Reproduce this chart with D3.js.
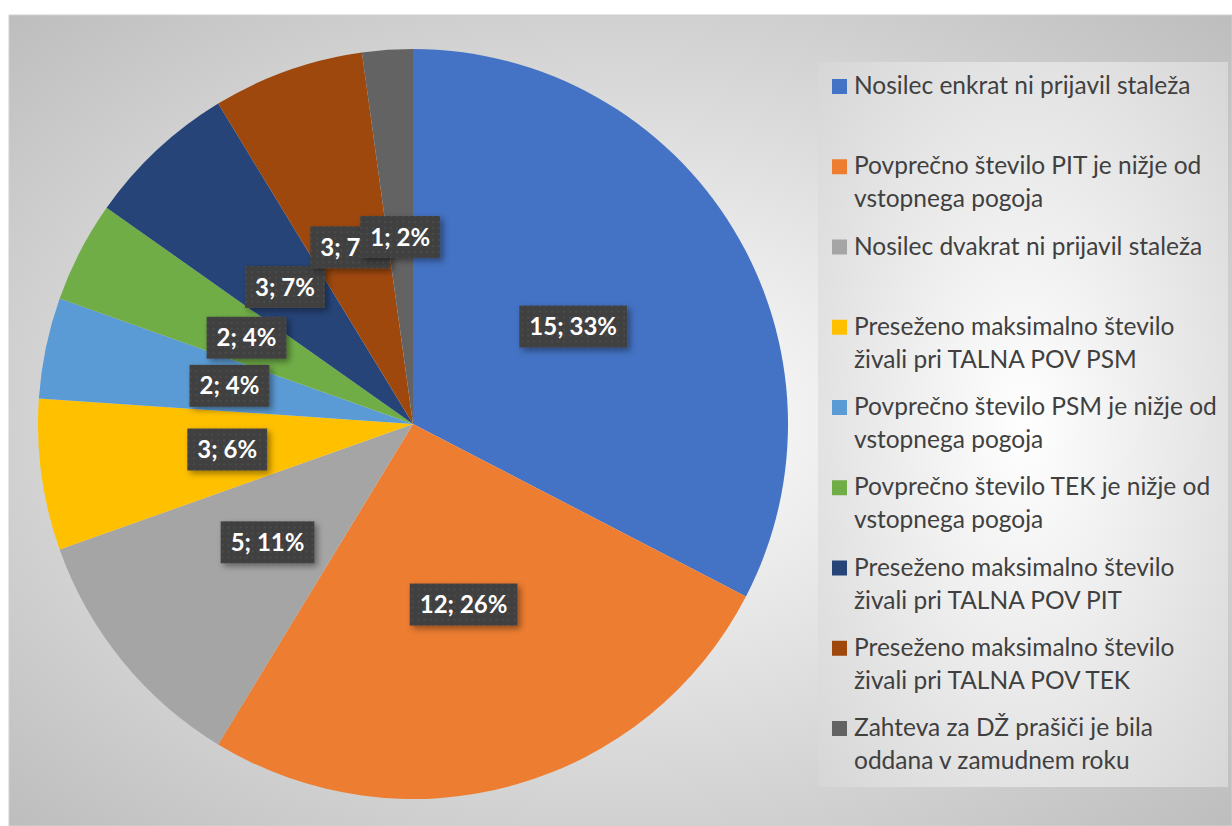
<!DOCTYPE html>
<html>
<head>
<meta charset="utf-8">
<script src="https://cdn.jsdelivr.net/npm/d3@7"></script>
<style>
  body { margin: 0; background: #fff; }
  svg { display: block; }
</style>
</head>
<body>
<div id="chart"></div>
<script>
// chart data
const categories = [
    "Nosilec enkrat ni prijavil staleža",
    "Povprečno število PIT je nižje od\nvstopnega pogoja",
    "Nosilec dvakrat ni prijavil staleža",
    "Preseženo maksimalno število\nživali pri TALNA POV PSM",
    "Povprečno število PSM je nižje od\nvstopnega pogoja",
    "Povprečno število TEK je nižje od\nvstopnega pogoja",
    "Preseženo maksimalno število\nživali pri TALNA POV PIT",
    "Preseženo maksimalno število\nživali pri TALNA POV TEK",
    "Zahteva za DŽ prašiči je bila\noddana v zamudnem roku"
];
const values = [15, 12, 5, 3, 2, 2, 3, 3, 1];
const percentLabels = ["33%", "26%", "11%", "6%", "4%", "4%", "7%", "7%", "2%"];
const colors = ["#4472C4", "#ED7D31", "#A5A5A5", "#FFC000", "#5B9BD5",
                "#70AD47", "#264478", "#9E480E", "#636363"];

const width = 1232, height = 826;
const cx = 413, cy = 424, radius = 375;

const svg = d3.select("#chart").append("svg")
    .attr("width", width)
    .attr("height", height);

const defs = svg.append("defs");

function radial(id, edge) {
    const grad = defs.append("radialGradient")
        .attr("id", id)
        .attr("cx", "50%").attr("cy", "50%").attr("r", "71%");
    grad.append("stop").attr("offset", "0%").attr("stop-color", "#ffffff");
    grad.append("stop").attr("offset", "100%").attr("stop-color", edge);
}
radial("bgGrad", "#bdbdbd");
radial("legendGrad", "#d6d6d6");

const dots = defs.append("pattern")
    .attr("id", "dots")
    .attr("patternUnits", "userSpaceOnUse")
    .attr("width", 6).attr("height", 6);
dots.append("rect").attr("width", 6).attr("height", 6).attr("fill", "#404040");
dots.append("circle").attr("cx", 3).attr("cy", 3).attr("r", 0.8).attr("fill", "#585858");

const shadow = defs.append("filter")
    .attr("id", "shadow")
    .attr("x", "-20%").attr("y", "-30%").attr("width", "150%").attr("height", "170%");
shadow.append("feDropShadow")
    .attr("dx", 3).attr("dy", 3).attr("stdDeviation", 3)
    .attr("flood-color", "#000").attr("flood-opacity", 0.4);

// chart area background
svg.append("rect")
    .attr("x", 9).attr("y", 15)
    .attr("width", width - 9).attr("height", height - 15)
    .attr("fill", "url(#bgGrad)")
    .attr("stroke", "#d0d0d0");

// pie
const pie = d3.pie().sort(null).value(d => d);
const arcs = pie(values);
const arc = d3.arc().innerRadius(0).outerRadius(radius);
const labelArc = d3.arc().innerRadius(radius * 0.5).outerRadius(radius * 0.5);

const g = svg.append("g").attr("transform", `translate(${cx},${cy})`);

g.selectAll(".slice")
    .data(arcs)
    .enter()
    .append("path")
    .attr("class", "slice")
    .attr("d", arc)
    .attr("fill", (d, i) => colors[i]);

// data labels
const labels = g.selectAll(".label")
    .data(arcs)
    .enter()
    .append("g")
    .attr("class", "label")
    .attr("transform", d => `translate(${labelArc.centroid(d)})`);

labels.each(function(d, i) {
    const lg = d3.select(this);
    const box = lg.append("rect").attr("fill", "url(#dots)").attr("filter", "url(#shadow)");
    const txt = lg.append("text")
        .attr("text-anchor", "middle")
        .attr("dy", "0.36em")
        .attr("fill", "#fff")
        .style("font-family", "Lato, 'Open Sans', sans-serif")
        .style("font-weight", "bold")
        .style("font-size", "24px")
        .text(`${values[i]}; ${percentLabels[i]}`);
    const w = txt.node().getComputedTextLength() + 20;
    box.attr("x", -w / 2).attr("y", -21).attr("width", w).attr("height", 42);
});

// legend
const legend = svg.append("g");
legend.append("rect")
    .attr("x", 818).attr("y", 62)
    .attr("width", 410).attr("height", 725)
    .attr("fill", "url(#legendGrad)");

const items = legend.selectAll(".item")
    .data(categories)
    .enter()
    .append("g")
    .attr("class", "item")
    .attr("transform", (d, i) => `translate(832,${94 + i * 80.25})`);

items.append("rect")
    .attr("x", 0).attr("y", -15)
    .attr("width", 15).attr("height", 15)
    .attr("fill", (d, i) => colors[i]);

items.append("text")
    .attr("x", 22)
    .attr("fill", "#404040")
    .style("font-family", "Lato, 'Open Sans', sans-serif")
    .style("font-size", "24.5px")
    .selectAll("tspan")
    .data(d => d.split("\n"))
    .enter()
    .append("tspan")
    .attr("x", 22)
    .attr("dy", (d, j) => j === 0 ? 0 : 33)
    .text(d => d);
</script>
</body>
</html>
